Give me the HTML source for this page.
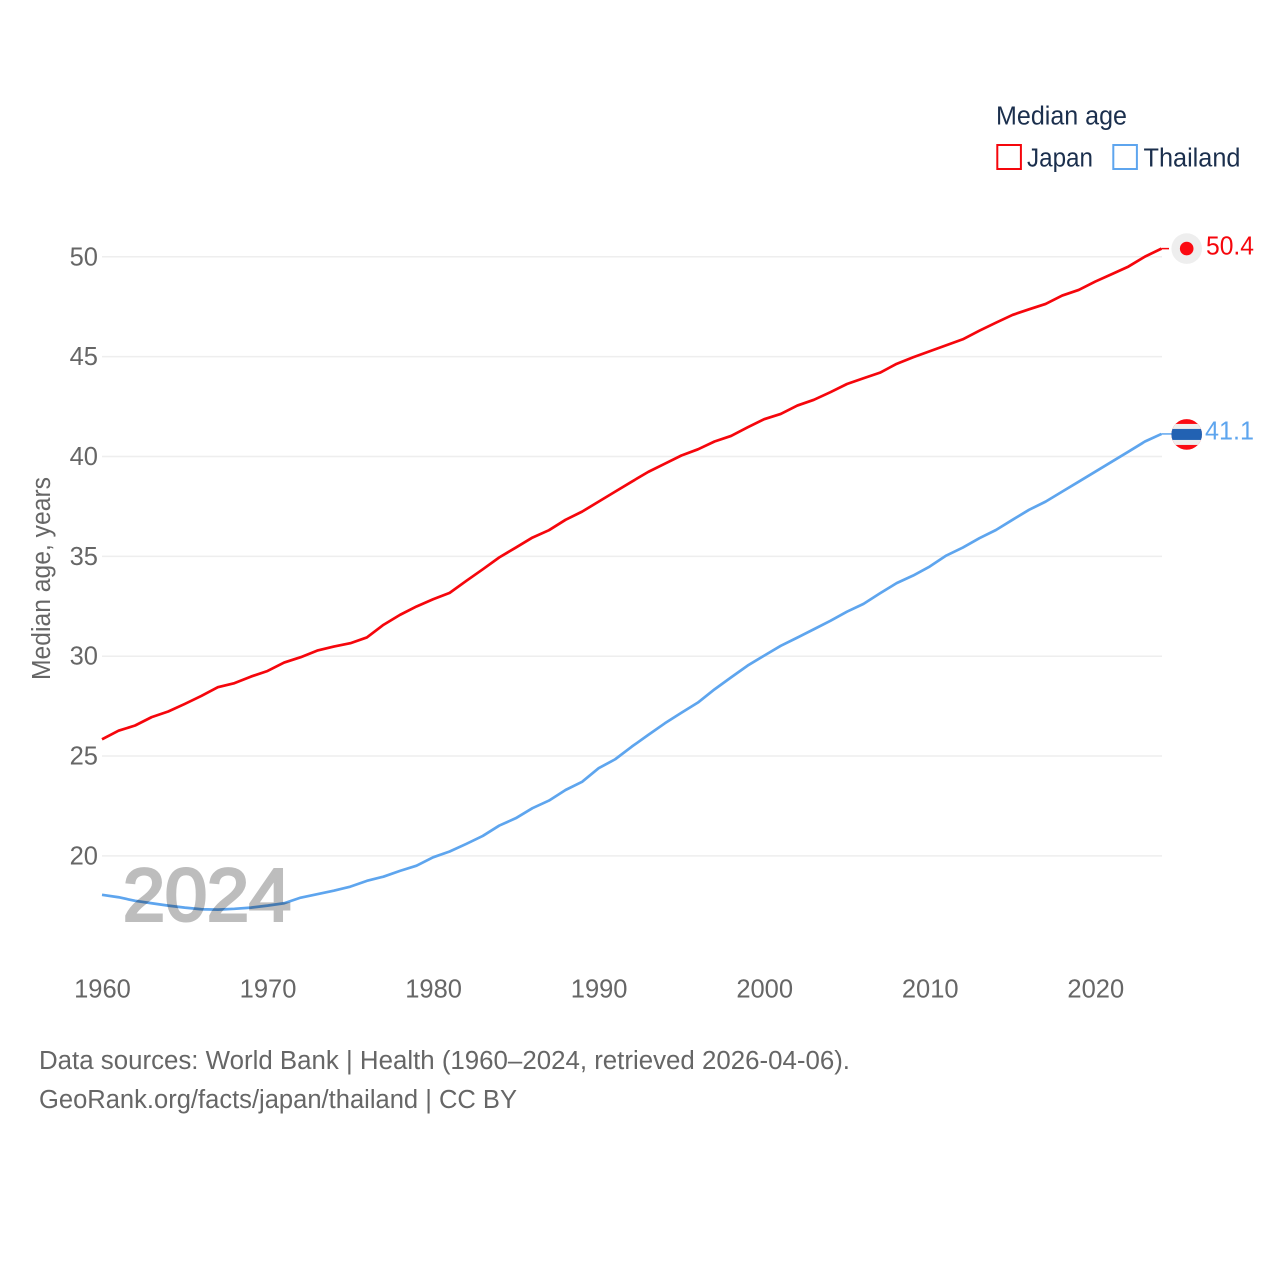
<!DOCTYPE html>
<html lang="en">
<head>
<meta charset="utf-8">
<title>Median age: Japan and Thailand</title>
<style>
  html, body { margin: 0; padding: 0; background: #fff; }
  svg { display: block; font-family: "Liberation Sans", sans-serif; }
  .tick { font-size: 25.5px; fill: #666; }
</style>
</head>
<body>
<svg id="chart" xmlns="http://www.w3.org/2000/svg" width="1280" height="1280" viewBox="0 0 1280 1280">
  <defs>
    <clipPath id="thailand-clip"><circle id="thailand-clip-circle" cx="1186.7" cy="434.5" r="15.3"/></clipPath>
  </defs>
  <rect width="1280" height="1280" fill="#fff"/>

  <g>
    <text x="996" y="124.5" font-size="25.5" fill="#1b2f4d" textLength="131" lengthAdjust="spacingAndGlyphs">Median age</text>
    <g>
      <rect x="997.3" y="145" width="23.6" height="24" fill="#fff" stroke="#f5060c" stroke-width="2"/>
      <text x="1027" y="166.5" font-size="25.5" fill="#1b2f4d" textLength="66" lengthAdjust="spacingAndGlyphs">Japan</text>
    </g>
    <g>
      <rect x="1113.3" y="145" width="23.6" height="24" fill="#fff" stroke="#5ea5ee" stroke-width="2"/>
      <text x="1143.5" y="166.5" font-size="25.5" fill="#1b2f4d" textLength="97" lengthAdjust="spacingAndGlyphs">Thailand</text>
    </g>
  </g>

  <g id="grid"></g>
  <g id="y-axis"></g>
  <g id="x-axis"></g>
  <text transform="translate(50,680) rotate(-90)" font-size="25.5" fill="#666" textLength="203" lengthAdjust="spacingAndGlyphs">Median age, years</text>

  <g id="series"></g>

  <text x="123" y="920.5" font-size="74" fill="#bdbdbd" stroke="#bdbdbd" stroke-width="3" textLength="168" lengthAdjust="spacingAndGlyphs" style="mix-blend-mode:multiply">2024</text>

  <g id="markers"></g>

  <g>
    <text x="39" y="1069" font-size="25.5" fill="#666" textLength="811" lengthAdjust="spacingAndGlyphs">Data sources: World Bank | Health (1960–2024, retrieved 2026-04-06).</text>
    <text x="39" y="1108" font-size="25.5" fill="#666" textLength="478" lengthAdjust="spacingAndGlyphs">GeoRank.org/facts/japan/thailand | CC BY</text>
  </g>
</svg>

<script>
const years = [1960,1961,1962,1963,1964,1965,1966,1967,1968,1969,
  1970,1971,1972,1973,1974,1975,1976,1977,1978,1979,
  1980,1981,1982,1983,1984,1985,1986,1987,1988,1989,
  1990,1991,1992,1993,1994,1995,1996,1997,1998,1999,
  2000,2001,2002,2003,2004,2005,2006,2007,2008,2009,
  2010,2011,2012,2013,2014,2015,2016,2017,2018,2019,
  2020,2021,2022,2023,2024];
const japanValues = [25.84,26.27,26.53,26.95,27.23,27.61,28.01,28.45,28.65,28.98,
  29.26,29.68,29.95,30.28,30.48,30.65,30.94,31.57,32.07,32.49,
  32.85,33.17,33.77,34.35,34.95,35.44,35.94,36.31,36.83,37.24,
  37.74,38.24,38.74,39.23,39.64,40.05,40.36,40.75,41.03,41.46,
  41.87,42.13,42.55,42.84,43.22,43.63,43.92,44.2,44.64,44.97,
  45.27,45.57,45.87,46.3,46.7,47.09,47.37,47.64,48.06,48.34,
  48.76,49.13,49.51,50.01,50.41];
const thailandValues = [18.05,17.93,17.75,17.63,17.51,17.41,17.33,17.31,17.35,17.41,
  17.51,17.63,17.91,18.08,18.26,18.46,18.75,18.96,19.25,19.51,
  19.93,20.22,20.6,21.0,21.52,21.89,22.39,22.77,23.3,23.71,
  24.39,24.84,25.47,26.06,26.64,27.17,27.68,28.34,28.94,29.53,
  30.03,30.52,30.93,31.35,31.77,32.23,32.62,33.15,33.66,34.04,
  34.49,35.04,35.44,35.91,36.32,36.83,37.33,37.74,38.24,38.74,
  39.24,39.74,40.24,40.75,41.13];
const yTickValues = [20,25,30,35,40,45,50];
const xTickValues = [1960,1970,1980,1990,2000,2010,2020];

const SVG_NS = 'http://www.w3.org/2000/svg';
const xLeft = 102, xRight = 1161.5, yBase = 855.9, yPerUnit = 19.97, markerX = 1186.7;

function xScale(year) {
  return xLeft + (year - 1960) * (xRight - xLeft) / (2024 - 1960);
}
function yScale(value) {
  return yBase - (value - 20) * yPerUnit;
}
function make(tag, attrs, parent) {
  const el = document.createElementNS(SVG_NS, tag);
  Object.keys(attrs).forEach(function (k) { el.setAttribute(k, attrs[k]); });
  parent.appendChild(el);
  return el;
}

const grid = document.getElementById('grid');
const yAxis = document.getElementById('y-axis');
const xAxis = document.getElementById('x-axis');
const seriesGroup = document.getElementById('series');
const markers = document.getElementById('markers');

yTickValues.forEach(function (v) {
  const line = make('line', { x1: xLeft, x2: 1162, y1: yScale(v), y2: yScale(v), stroke: '#eeeeee', 'stroke-width': 1.5 }, grid);
  
  
  const label = make('text', { x: 98, y: yScale(v) + 8.5, 'text-anchor': 'end', class: 'tick' }, yAxis);
  label.textContent = String(v);
  
  
});

xTickValues.forEach(function (yr) {
  const label = make('text', { x: xScale(yr) + 0.5, y: 997.5, 'text-anchor': 'middle', class: 'tick' }, xAxis);
  label.textContent = String(yr);
  
  
});

function pathFor(values) {
  return values.map(function (v, i) {
    return (i ? 'L' : 'M') + xScale(years[i]).toFixed(2) + ' ' + yScale(v).toFixed(2);
  }).join(' ');
}

const japanLine = make('path', { d: pathFor(japanValues), fill: 'none', stroke: '#f5060c', 'stroke-width': 2.7, 'stroke-linejoin': 'round' }, seriesGroup);



const thailandLine = make('path', { d: pathFor(thailandValues), fill: 'none', stroke: '#5ea5ee', 'stroke-width': 2.7, 'stroke-linejoin': 'round' }, seriesGroup);



/* Japan end marker */
const japanLast = japanValues[japanValues.length - 1];
const japanY = yScale(japanLast);
const japanConnector = make('line', { x1: xRight, x2: 1169, y1: japanY, y2: japanY, stroke: '#f5060c', 'stroke-width': 1.5 }, markers);


const japanFlag = make('g', {}, markers);


make('circle', { cx: markerX, cy: japanY, r: 15.3, fill: '#eeeeee' }, japanFlag);
make('circle', { cx: markerX, cy: japanY, r: 6.8, fill: '#fb0a12' }, japanFlag);
const japanLabel = make('text', { x: 1206, y: japanY + 5.8, 'font-size': 25.5, fill: '#f5060c', textLength: 48, lengthAdjust: 'spacingAndGlyphs' }, markers);
japanLabel.textContent = japanLast.toFixed(1);



/* Thailand end marker */
const thaiLast = thailandValues[thailandValues.length - 1];
const thaiY = yScale(thaiLast);
const thaiConnector = make('line', { x1: xRight, x2: 1172, y1: thaiY, y2: thaiY, stroke: '#5ea5ee', 'stroke-width': 1.5 }, markers);


const clipCircle = document.getElementById('thailand-clip-circle');
clipCircle.setAttribute('cy', thaiY + 0.5);
const thaiFlag = make('g', { 'clip-path': 'url(#thailand-clip)' }, markers);


make('rect', { x: markerX - 16, y: thaiY - 16, width: 32, height: 33, fill: '#fb0a12' }, thaiFlag);
make('rect', { x: markerX - 16, y: thaiY - 10, width: 32, height: 21, fill: '#eeeeee' }, thaiFlag);
make('rect', { x: markerX - 16, y: thaiY - 5, width: 32, height: 11, fill: '#2262b3' }, thaiFlag);
const thaiLabel = make('text', { x: 1205, y: thaiY + 5.8, 'font-size': 25.5, fill: '#5ea5ee', textLength: 49, lengthAdjust: 'spacingAndGlyphs' }, markers);
thaiLabel.textContent = thaiLast.toFixed(1);


</script>
</body>
</html>
